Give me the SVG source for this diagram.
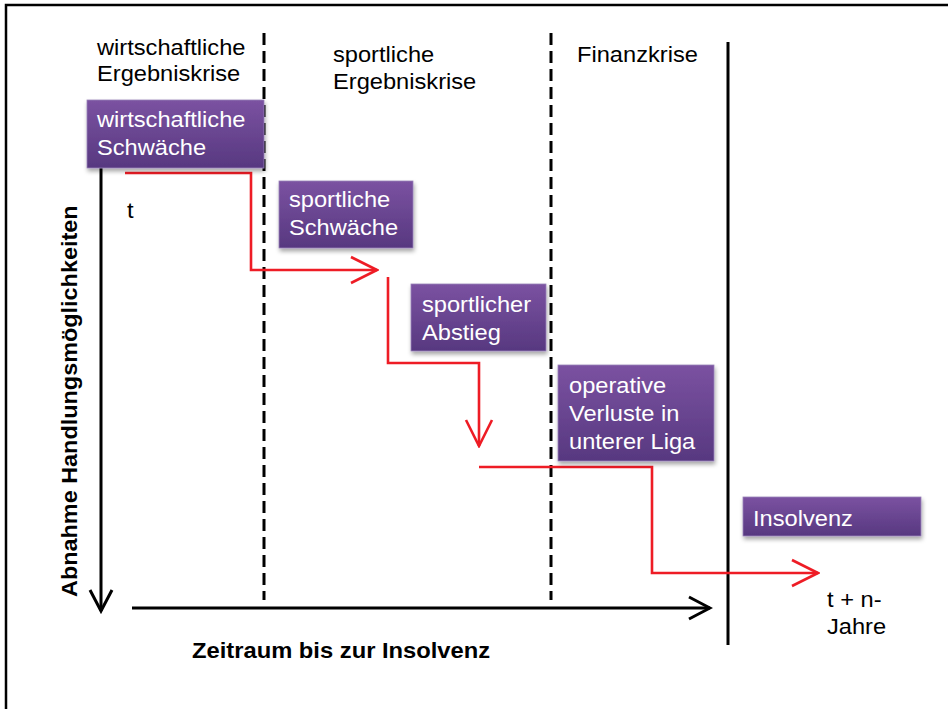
<svg xmlns="http://www.w3.org/2000/svg" width="948" height="709" viewBox="0 0 948 709">
<defs>
<linearGradient id="pg" x1="0" y1="0" x2="0" y2="1">
<stop offset="0" stop-color="#7b52a1"/>
<stop offset="1" stop-color="#573880"/>
</linearGradient>
<filter id="sh" x="-10%" y="-10%" width="130%" height="140%">
<feDropShadow dx="1" dy="3" stdDeviation="2" flood-color="#000" flood-opacity="0.35"/>
</filter>
<marker id="ra" viewBox="0 0 30 30" refX="28" refY="15" markerWidth="30" markerHeight="30" markerUnits="userSpaceOnUse" orient="auto">
<path d="M2,2 L28,15 L2,28" fill="none" stroke="#ee1c25" stroke-width="2.6"/>
</marker>
<marker id="ba" viewBox="0 0 26 26" refX="23" refY="13" markerWidth="26" markerHeight="26" markerUnits="userSpaceOnUse" orient="auto">
<path d="M2,2 L23,13 L2,24" fill="none" stroke="#000" stroke-width="3"/>
</marker>
</defs>
<style>
.box{fill:url(#pg);stroke:#9a82b8;stroke-width:0.8;filter:url(#sh)}
.bt{font-family:"Liberation Sans",Arial,sans-serif;font-size:21.5px;fill:#fff}
.lt{font-family:"Liberation Sans",Arial,sans-serif;font-size:21.5px;fill:#000}
.bold{font-family:"Liberation Sans",Arial,sans-serif;font-size:21.6px;font-weight:bold;fill:#000}
.red{fill:none;stroke:#ee1c25;stroke-width:2.6}
.ax{fill:none;stroke:#000;stroke-width:3}
.dash{fill:none;stroke:#000;stroke-width:3;stroke-dasharray:12 6}
</style>
<rect width="948" height="709" fill="#fff"/>
<path d="M6,709 V5 H948" fill="none" stroke="#000" stroke-width="2.5"/>

<g id="phases">
<line class="dash" x1="264" y1="33" x2="264" y2="600"/>
<line class="dash" x1="551" y1="33" x2="551" y2="600"/>
<line class="ax" x1="728" y1="42" x2="728" y2="645"/>
<text class="lt" transform="translate(97,55) scale(1.1,1)">wirtschaftliche</text>
<text class="lt" transform="translate(97,81) scale(1.1,1)">Ergebniskrise</text>
<text class="lt" transform="translate(333,62) scale(1.1,1)">sportliche</text>
<text class="lt" transform="translate(333,89) scale(1.1,1)">Ergebniskrise</text>
<text class="lt" transform="translate(577,62) scale(1.1,1)">Finanzkrise</text>
</g>

<g id="axes">
<line class="ax" x1="101" y1="168" x2="101" y2="611" marker-end="url(#ba)"/>
<line class="ax" x1="132" y1="608" x2="710" y2="608" marker-end="url(#ba)"/>
<text class="bold" transform="translate(77,597) rotate(-90) scale(1.085,1)">Abnahme Handlungsmöglichkeiten</text>
<text class="bold" transform="translate(192,658) scale(1.1,1)">Zeitraum bis zur Insolvenz</text>
<text class="lt" transform="translate(127,218) scale(1.1,1)">t</text>
<text class="lt" transform="translate(827,607) scale(1.1,1)">t + n-</text>
<text class="lt" transform="translate(827,634) scale(1.1,1)">Jahre</text>
</g>

<g id="connectors">
<path class="red" d="M125,173 H251 V270 H377" marker-end="url(#ra)"/>
<path class="red" d="M388,277 V363 H479 V446" marker-end="url(#ra)"/>
<path class="red" d="M479,467 H652 V573 H818" marker-end="url(#ra)"/>
</g>

<g id="n1">
<rect class="box" x="87" y="100" width="177" height="68"/>
<text class="bt" transform="translate(97,127) scale(1.1,1)">wirtschaftliche</text>
<text class="bt" transform="translate(97,155) scale(1.1,1)">Schwäche</text>
</g>
<g id="n2">
<rect class="box" x="279" y="181" width="134" height="67"/>
<text class="bt" transform="translate(289,207) scale(1.1,1)">sportliche</text>
<text class="bt" transform="translate(289,235) scale(1.1,1)">Schwäche</text>
</g>
<g id="n3">
<rect class="box" x="411" y="284" width="135" height="67"/>
<text class="bt" transform="translate(422,312) scale(1.1,1)">sportlicher</text>
<text class="bt" transform="translate(422,340) scale(1.1,1)">Abstieg</text>
</g>
<g id="n4">
<rect class="box" x="558" y="365" width="156" height="96"/>
<text class="bt" transform="translate(569,393) scale(1.1,1)">operative</text>
<text class="bt" transform="translate(569,421) scale(1.1,1)">Verluste in</text>
<text class="bt" transform="translate(569,449) scale(1.1,1)">unterer Liga</text>
</g>
<g id="n5">
<rect class="box" x="743" y="497" width="178" height="39"/>
<text class="bt" transform="translate(753,526) scale(1.1,1)">Insolvenz</text>
</g>
</svg>
